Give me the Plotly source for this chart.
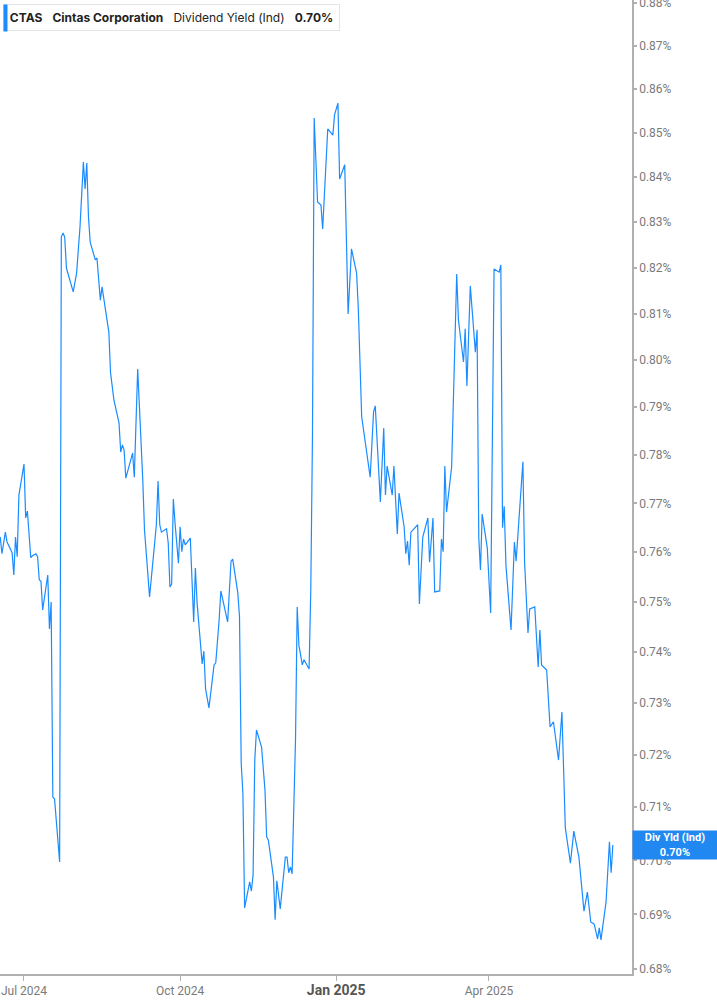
import plotly.graph_objects as go
import math

# CTAS dividend yield (indicated)
dates = [
    "2024-06-17", "2024-06-18", "2024-06-20", "2024-06-21", "2024-06-24", "2024-06-25", "2024-06-26", "2024-06-27",
    "2024-06-28", "2024-07-01", "2024-07-02", "2024-07-03", "2024-07-05", "2024-07-06", "2024-07-08", "2024-07-09",
    "2024-07-10", "2024-07-11", "2024-07-12", "2024-07-15", "2024-07-16", "2024-07-17", "2024-07-18", "2024-07-19",
    "2024-07-22", "2024-07-23", "2024-07-24", "2024-07-25", "2024-07-26", "2024-07-30", "2024-08-01", "2024-08-03",
    "2024-08-05", "2024-08-06", "2024-08-07", "2024-08-08", "2024-08-09", "2024-08-12", "2024-08-13", "2024-08-15",
    "2024-08-16", "2024-08-20", "2024-08-21", "2024-08-23", "2024-08-26", "2024-08-27", "2024-08-28", "2024-08-29",
    "2024-08-30", "2024-09-03", "2024-09-04", "2024-09-06", "2024-09-09", "2024-09-10", "2024-09-13", "2024-09-17",
    "2024-09-18", "2024-09-19", "2024-09-20", "2024-09-23", "2024-09-24", "2024-09-25", "2024-09-26", "2024-09-27",
    "2024-09-28", "2024-09-30", "2024-10-01", "2024-10-02", "2024-10-03", "2024-10-04", "2024-10-07", "2024-10-09",
    "2024-10-10", "2024-10-11", "2024-10-14", "2024-10-15", "2024-10-16", "2024-10-18", "2024-10-21", "2024-10-22",
    "2024-10-24", "2024-10-25", "2024-10-29", "2024-10-31", "2024-11-01", "2024-11-04", "2024-11-05", "2024-11-06",
    "2024-11-07", "2024-11-08", "2024-11-11", "2024-11-12", "2024-11-13", "2024-11-14", "2024-11-15", "2024-11-18",
    "2024-11-20", "2024-11-21", "2024-11-22", "2024-11-25", "2024-11-26", "2024-11-27", "2024-11-29", "2024-12-02",
    "2024-12-03", "2024-12-04", "2024-12-05", "2024-12-06", "2024-12-08", "2024-12-09", "2024-12-10", "2024-12-12",
    "2024-12-13", "2024-12-16", "2024-12-17", "2024-12-18", "2024-12-19", "2024-12-21", "2024-12-23", "2024-12-24",
    "2024-12-27", "2024-12-30", "2024-12-31", "2025-01-02", "2025-01-03", "2025-01-06", "2025-01-08", "2025-01-10",
    "2025-01-13", "2025-01-14", "2025-01-16", "2025-01-21", "2025-01-23", "2025-01-24", "2025-01-27", "2025-01-29",
    "2025-01-30", "2025-01-31", "2025-02-03", "2025-02-04", "2025-02-06", "2025-02-07", "2025-02-10", "2025-02-11",
    "2025-02-12", "2025-02-13", "2025-02-14", "2025-02-18", "2025-02-19", "2025-02-21", "2025-02-24", "2025-02-25",
    "2025-02-27", "2025-02-28", "2025-03-03", "2025-03-04", "2025-03-05", "2025-03-06", "2025-03-07", "2025-03-10",
    "2025-03-13", "2025-03-14", "2025-03-17", "2025-03-18", "2025-03-19", "2025-03-21", "2025-03-24", "2025-03-25",
    "2025-03-26", "2025-03-27", "2025-03-28", "2025-03-31", "2025-04-02", "2025-04-04", "2025-04-07", "2025-04-08",
    "2025-04-09", "2025-04-10", "2025-04-11", "2025-04-14", "2025-04-16", "2025-04-17", "2025-04-21", "2025-04-22",
    "2025-04-24", "2025-04-25", "2025-04-28", "2025-04-30", "2025-05-01", "2025-05-02", "2025-05-05", "2025-05-07",
    "2025-05-09", "2025-05-12", "2025-05-14", "2025-05-16", "2025-05-19", "2025-05-21", "2025-05-24", "2025-05-27",
    "2025-05-29", "2025-05-31", "2025-06-02", "2025-06-04", "2025-06-05", "2025-06-06", "2025-06-09", "2025-06-10",
    "2025-06-11", "2025-06-12", "2025-06-13",
]
div_yield = [
    0.7631, 0.7597, 0.7641, 0.7621, 0.7599, 0.7554, 0.7631, 0.7591,
    0.7717, 0.7781, 0.7670, 0.7684, 0.7589, 0.7593, 0.7597, 0.7591,
    0.7544, 0.7542, 0.7484, 0.7554, 0.7446, 0.7500, 0.7119, 0.7116,
    0.6997, 0.8267, 0.8276, 0.8267, 0.8199, 0.8147, 0.8188, 0.8289,
    0.8434, 0.8374, 0.8432, 0.8312, 0.8256, 0.8217, 0.8221, 0.8129,
    0.8158, 0.8060, 0.7973, 0.7915, 0.7867, 0.7806, 0.7821, 0.7810,
    0.7752, 0.7804, 0.7754, 0.7981, 0.7748, 0.7646, 0.7510, 0.7656,
    0.7746, 0.7656, 0.7641, 0.7648, 0.7619, 0.7530, 0.7536, 0.7709,
    0.7660, 0.7578, 0.7652, 0.7601, 0.7627, 0.7615, 0.7629, 0.7460,
    0.7568, 0.7498, 0.7377, 0.7402, 0.7328, 0.7291, 0.7375, 0.7379,
    0.7464, 0.7522, 0.7460, 0.7582, 0.7586, 0.7518, 0.7470, 0.7184,
    0.7127, 0.6912, 0.6960, 0.6943, 0.6973, 0.7190, 0.7248, 0.7215,
    0.7133, 0.7044, 0.7038, 0.6969, 0.6890, 0.6962, 0.6910, 0.7006,
    0.7006, 0.6977, 0.6988, 0.6975, 0.7229, 0.7490, 0.7414, 0.7375,
    0.7385, 0.7367, 0.7524, 0.7842, 0.8534, 0.8345, 0.8338, 0.8285,
    0.8509, 0.8495, 0.8541, 0.8568, 0.8396, 0.8428, 0.8099, 0.8241,
    0.8188, 0.8112, 0.7880, 0.7754, 0.7890, 0.7903, 0.7703, 0.7856,
    0.7717, 0.7777, 0.7717, 0.7777, 0.7637, 0.7721, 0.7652, 0.7597,
    0.7623, 0.7574, 0.7641, 0.7656, 0.7496, 0.7631, 0.7670, 0.7580,
    0.7670, 0.7520, 0.7522, 0.7627, 0.7601, 0.7777, 0.7682, 0.7775,
    0.8186, 0.8086, 0.7996, 0.8067, 0.7945, 0.8160, 0.8017, 0.8065,
    0.7629, 0.7564, 0.7678, 0.7609, 0.7478, 0.8197, 0.8190, 0.8206,
    0.7650, 0.7694, 0.7574, 0.7444, 0.7621, 0.7582, 0.7786, 0.7580,
    0.7438, 0.7486, 0.7490, 0.7371, 0.7444, 0.7375, 0.7365, 0.7254,
    0.7264, 0.7190, 0.7283, 0.7061, 0.6995, 0.7055, 0.7006, 0.6906,
    0.6941, 0.6886, 0.6882, 0.6855, 0.6875, 0.6853, 0.6923, 0.6982,
    0.7035, 0.6977, 0.7029,
]

y_ticks = [0.68, 0.69, 0.70, 0.71, 0.72, 0.73, 0.74, 0.75, 0.76, 0.77,
           0.78, 0.79, 0.80, 0.81, 0.82, 0.83, 0.84, 0.85, 0.86, 0.87, 0.88]
y_labels = ["%.2f%%" % v for v in y_ticks]
x_ticks = ["2024-07-01", "2024-10-01", "2025-01-01", "2025-04-01"]
x_labels = ["Jul 2024", "Oct 2024",
            "<span style='font-size:14px;color:#555'><b>Jan 2025</b></span>", "Apr 2025"]

line_blue = "#1a8cff"
grey = "#7a7a7a"

fig = go.Figure()
fig.add_trace(go.Scatter(x=dates, y=div_yield, mode="lines",
                         line=dict(color=line_blue, width=1.2), hoverinfo="x+y"))

fig.update_layout(
    width=717, height=1005,
    margin=dict(l=0, r=85, t=0, b=31),
    paper_bgcolor="white", plot_bgcolor="white",
    showlegend=False,
    font=dict(family="Roboto, Arial", size=12, color=grey),
)
fig.update_xaxes(
    type="date", range=["2024-06-16 20:40", "2025-06-24 07:00"],
    tickvals=x_ticks, ticktext=x_labels,
    showgrid=False, zeroline=False,
    showline=True, linecolor="#b0b0b0", linewidth=1.5,
    ticks="outside", ticklen=5, tickcolor="#b0b0b0",
    tickfont=dict(size=12, color=grey),
    automargin=False,
)
fig.update_yaxes(
    type="log", side="right",
    range=[math.log10(0.6791), math.log10(0.8807)],
    tickvals=y_ticks, ticktext=y_labels,
    showgrid=False, zeroline=False,
    showline=True, linecolor="#b0b0b0", linewidth=1.5,
    ticks="outside", ticklen=3, tickwidth=2, tickcolor="#b0b0b0",
    tickfont=dict(size=12, color=grey),
    ticklabeloverflow="allow", automargin=False,
)

# header box in the top left corner
fig.add_annotation(
    xref="paper", yref="paper", x=0.0047, y=0.9959, xanchor="left", yanchor="top",
    text="<b>CTAS</b>   <b>Cintas Corporation</b>   Dividend Yield (Ind)   <b>0.70%</b>",
    showarrow=False, align="center", width=325,
    font=dict(family="Inter, Arial", size=12, color="#222"),
    bgcolor="white", bordercolor="#e4e4e4", borderwidth=1, borderpad=5,
)
# blue accent bar on the left edge of the header box
fig.add_annotation(
    xref="paper", yref="paper", x=0.0047, y=0.9959, xanchor="left", yanchor="top",
    text=" ", showarrow=False, width=3, height=26, borderpad=0,
    bgcolor=line_blue, font=dict(size=2),
)

# last value tag on the right axis
fig.add_annotation(
    xref="paper", yref="y", x=1.0, y=math.log10(div_yield[-1]),
    xanchor="left", yanchor="middle",
    text="<b>Div Yld (Ind)</b><br><b>0.70%</b>",
    showarrow=False, align="center", width=84, height=28,
    font=dict(family="Roboto, Arial", size=11, color="white"),
    bgcolor="#2188f2", borderpad=0,
)

fig.write_html("out.html", config={"displayModeBar": False},
               post_script="document.body.style.margin='0';")
